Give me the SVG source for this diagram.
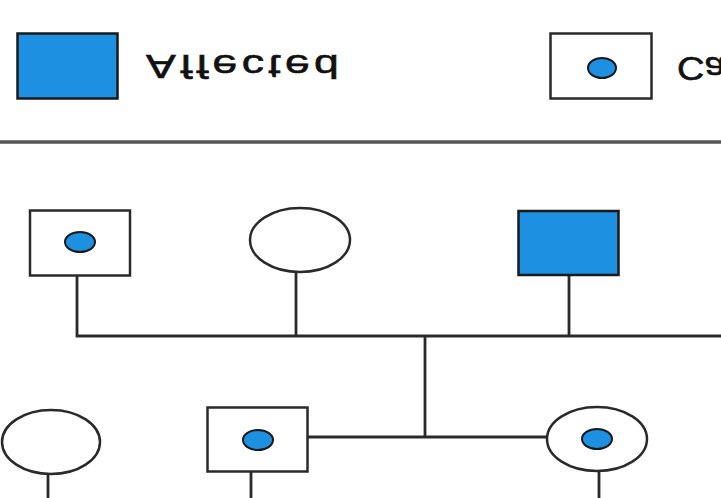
<svg xmlns="http://www.w3.org/2000/svg" width="721" height="498" viewBox="0 0 721 498">
  <style>
    .shape { fill: #ffffff; stroke: #2a2a2a; stroke-width: 2.5; }
    .aff { fill: #1e90e2; stroke: #1a1a1a; stroke-width: 2.5; }
    .dot { fill: #1e90e2; stroke: #1a1a1a; stroke-width: 2; }
    .link { fill: none; stroke: #2a2a2a; stroke-width: 2.8; }
    .sep { fill: none; stroke: #555555; stroke-width: 3.5; }
    .lbl { font-family: "Liberation Sans", Arial, sans-serif; font-size: 33px; fill: #111111; stroke: #111111; stroke-width: 0.6px; }
  </style>
  <rect width="721" height="498" fill="#ffffff"/>

  <g id="legend-affected">
    <rect class="aff" x="17.5" y="33.5" width="100" height="65"/>
    <text class="lbl" transform="translate(146,55) scale(1.35,-1)" letter-spacing="3.2">Affected</text>
  </g>
  <g id="legend-carrier">
    <rect class="shape" x="550.5" y="33.5" width="101" height="65"/>
    <ellipse class="dot" cx="602" cy="68" rx="14" ry="10"/>
    <text class="lbl" transform="translate(677,57) scale(1.15,-1)">Carrier</text>
  </g>
  <line class="sep" x1="0" y1="142" x2="721" y2="142"/>

  <g id="connectors">
    <polyline class="link" points="77,276 77,336 721,336"/>
    <line class="link" x1="296" y1="272" x2="296" y2="336"/>
    <line class="link" x1="569" y1="275" x2="569" y2="336"/>
    <line class="link" x1="425" y1="336" x2="425" y2="437"/>
    <line class="link" x1="308" y1="437" x2="547" y2="437"/>
    <line class="link" x1="48" y1="474" x2="48" y2="498"/>
    <line class="link" x1="251" y1="472" x2="251" y2="498"/>
    <line class="link" x1="599" y1="471" x2="599" y2="498"/>
  </g>

  <g id="gp-male">
    <rect class="shape" x="30" y="210.5" width="100" height="65"/>
    <ellipse class="dot" cx="80" cy="242" rx="15" ry="10"/>
  </g>
  <g id="gp-female">
    <ellipse class="shape" cx="300" cy="240" rx="50" ry="32"/>
  </g>
  <g id="affected-male">
    <rect class="aff" x="518.5" y="211" width="100" height="64"/>
  </g>
  <g id="female-left">
    <ellipse class="shape" cx="51" cy="442" rx="49" ry="32"/>
  </g>
  <g id="carrier-male">
    <rect class="shape" x="207.5" y="407.5" width="100" height="64"/>
    <ellipse class="dot" cx="258" cy="440" rx="15" ry="10"/>
  </g>
  <g id="carrier-female">
    <ellipse class="shape" cx="597" cy="439" rx="50" ry="32"/>
    <ellipse class="dot" cx="597" cy="439" rx="15" ry="10"/>
  </g>
</svg>
